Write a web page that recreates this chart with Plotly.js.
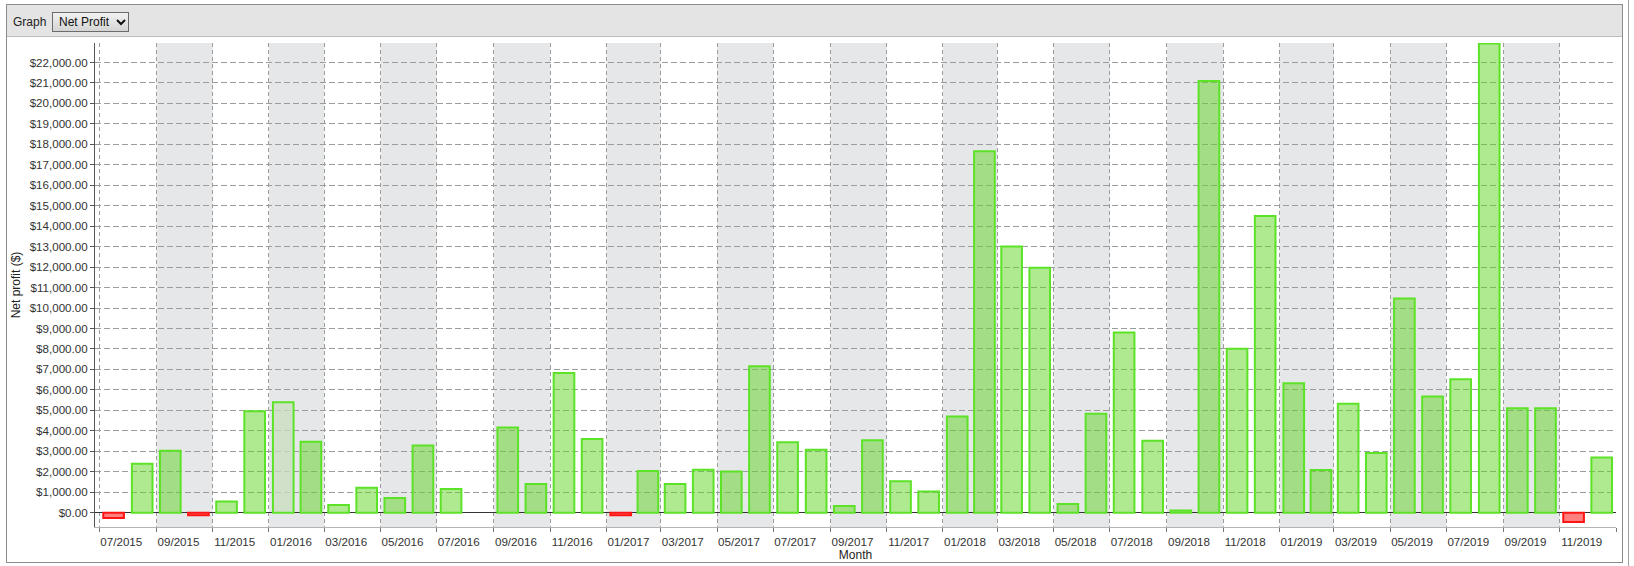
<!DOCTYPE html>
<html>
<head>
<meta charset="utf-8">
<script src="https://cdn.plot.ly/plotly-3.0.1.min.js"></script>
<style>
  html, body { margin: 0; padding: 0; background: #fff; }
  body { width: 1634px; height: 566px; position: relative; overflow: hidden; font-family: "Liberation Sans", Arial, sans-serif; }
  #frame { position: absolute; left: 6px; top: 4px; width: 1617px; height: 559px; border: 1px solid #8c8c8c; box-sizing: border-box; }
  #outer { position: absolute; left: 1628px; top: 0; width: 1px; height: 566px; background: #a0a0a0; }
  #header { position: absolute; left: 7px; top: 5px; width: 1615px; height: 32px; background: #e4e4e4; border-bottom: 1px solid #bdbdbd; box-sizing: border-box; z-index: 2; }
  #header .lbl { position: absolute; left: 6px; top: 10px; font-size: 12px; color: #222; }
  #header .sel { position: absolute; left: 45px; top: 7px; width: 77px; height: 20px; border: 1px solid #6b6b6b; background: linear-gradient(#f2f2f2, #d4d4d4); box-sizing: border-box; font-size: 12px; line-height: 18px; padding-left: 6px; color: #111; }
  #header .sel svg { position: absolute; left: 63px; top: 6px; }
  #plot { position: absolute; left: 0; top: 0; width: 1634px; height: 566px; z-index: 1; }
</style>
</head>
<body>
<div id="frame"></div>
<div id="outer"></div>
<div id="header">
  <span class="lbl">Graph</span>
  <div class="sel">Net Profit
    <svg width="10" height="7" viewBox="0 0 10 7"><polyline points="1,1 5,5 9,1" fill="none" stroke="#111" stroke-width="2"/></svg>
  </div>
</div>
<div id="plot"></div>
<script>
// monthly net profit
const months = [
  '2015-07', '2015-08', '2015-09', '2015-10', '2015-11', '2015-12',
  '2016-01', '2016-02', '2016-03', '2016-04', '2016-05', '2016-06',
  '2016-07', '2016-08', '2016-09', '2016-10', '2016-11', '2016-12',
  '2017-01', '2017-02', '2017-03', '2017-04', '2017-05', '2017-06',
  '2017-07', '2017-08', '2017-09', '2017-10', '2017-11', '2017-12',
  '2018-01', '2018-02', '2018-03', '2018-04', '2018-05', '2018-06',
  '2018-07', '2018-08', '2018-09', '2018-10', '2018-11', '2018-12',
  '2019-01', '2019-02', '2019-03', '2019-04', '2019-05', '2019-06',
  '2019-07', '2019-08', '2019-09', '2019-10', '2019-11', '2019-12'
];
const netProfit = [
  -260, 2390, 3020, -120, 540, 4960,
  5400, 3470, 375, 1220, 720, 3280,
  1160, null, 4160, 1400, 6830, 3600,
  -120, 2040, 1400, 2100, 2010, 7160,
  3440, 3080, 330, 3540, 1530, 1030,
  4700, 17660, 13010, 11970, 420, 4830,
  8810, 3520, 110, 21090, 8010, 14500,
  6330, 2090, 5320, 2920, 10470, 5680,
  6520, 22930, 5100, 5100, -450, 2690
];
const highlightMonth = '2016-01';
const axisEnd = '2020-01';

const GREEN_FILL = 'rgba(96,214,36,0.5)';
const GREEN_LINE = 'rgb(92,226,38)';
const RED_FILL = 'rgba(255,0,0,0.5)';
const RED_LINE = 'rgb(255,20,20)';
const HILITE_FILL = 'rgba(200,222,190,0.75)';

const fills = netProfit.map((v, i) => {
    if (months[i] === highlightMonth) return HILITE_FILL;
    return v < 0 ? RED_FILL : GREEN_FILL;
});
const lines = netProfit.map(v => v < 0 ? RED_LINE : GREEN_LINE);

// alternating grey bands, two months wide, starting at 09/2015
const bands = [];
months.forEach((m, i) => {
    if (i % 4 === 2) {
        bands.push({
            type: 'rect', xref: 'x', yref: 'paper', layer: 'below',
            x0: m, x1: months[i + 2] || axisEnd, y0: 0, y1: 1,
            fillcolor: '#e6e7e9', line: { width: 0 }
        });
    }
});

const DAY = 86400000;
const font = { family: '"Liberation Sans", Arial, sans-serif', size: 11.6, color: '#333' };

const trace = {
    type: 'bar',
    x: months,
    y: netProfit,
    xperiod: 'M1',
    xperiodalignment: 'middle',
    width: 22.4 * DAY,
    marker: { color: fills, line: { color: lines, width: 2 } },
    hoverinfo: 'skip'
};

const layout = {
    width: 1634,
    height: 566,
    margin: { l: 95, r: 18, t: 43, b: 39, pad: 0 },
    paper_bgcolor: 'rgba(0,0,0,0)',
    plot_bgcolor: '#fff',
    font: font,
    showlegend: false,
    bargap: 0,
    shapes: bands,
    xaxis: {
        type: 'date',
        range: ['2015-06-26 08:00', axisEnd + '-01'],
        tick0: '2015-07-01',
        dtick: 'M2',
        tickformat: '%m/%Y',
        ticks: 'outside', ticklen: 4, tickcolor: '#777',
        ticklabelshift: 22,
        tickfont: font,
        showgrid: true, gridcolor: '#9c9c9c', gridwidth: 1, griddash: '4px,3px',
        showline: true, linecolor: '#b4b4b4', linewidth: 1,
        zeroline: false,
        fixedrange: true,
        title: { text: 'Month', standoff: 1, font: { family: font.family, size: 12, color: '#222' } }
    },
    yaxis: {
        range: [-700, 22950],
        tick0: 0,
        dtick: 1000,
        tickformat: '$,.2f',
        ticks: 'outside', ticklen: 4, tickcolor: '#555',
        tickfont: font,
        showgrid: true, gridcolor: '#9c9c9c', gridwidth: 1, griddash: '6px,3px',
        zeroline: true, zerolinecolor: '#333', zerolinewidth: 1,
        showline: true, linecolor: '#555', linewidth: 1,
        fixedrange: true,
        title: { text: 'Net profit ($)', standoff: 6, font: { family: font.family, size: 12, color: '#222' } }
    }
};

Plotly.newPlot('plot', [trace], layout, { displayModeBar: false, staticPlot: true });
</script>
</body>
</html>
